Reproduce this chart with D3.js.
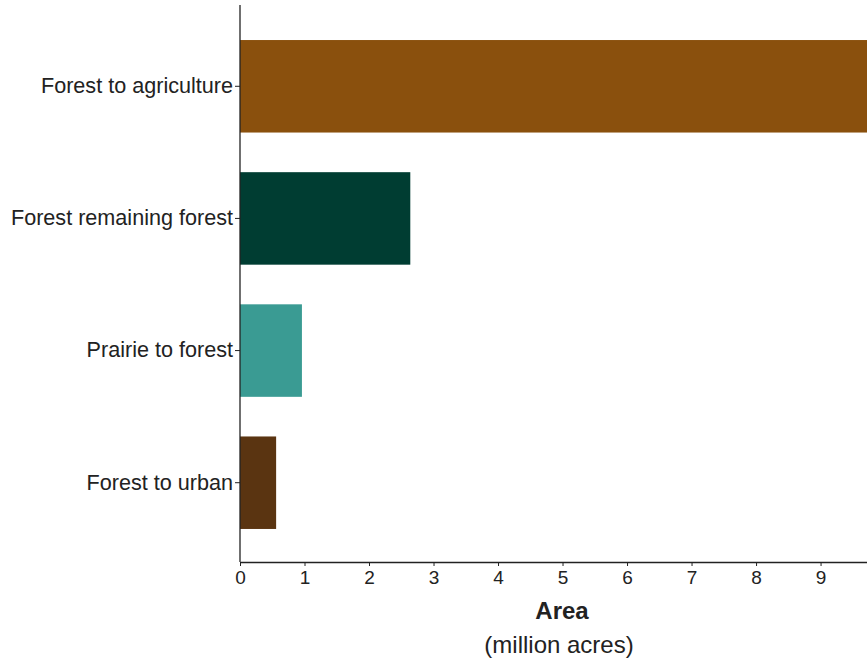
<!DOCTYPE html>
<html>
<head>
<meta charset="utf-8">
<script src="https://cdn.jsdelivr.net/npm/d3@7"></script>
<style>
  body { margin: 0; background: #fff; }
  text { font-family: "Liberation Sans", Arial, sans-serif; }
</style>
</head>
<body>
<svg></svg>
<script>
// land-use change categories, top to bottom
const categories = ['Forest to agriculture', 'Forest remaining forest', 'Prairie to forest', 'Forest to urban']
// area in million acres (first bar runs off the right edge)
const areas = [9.8, 2.64, 0.96, 0.56]
const barColors = ['#8a500d', '#003d32', '#3a9b93', '#5a3411']
const xTicks = [0, 1, 2, 3, 4, 5, 6, 7, 8, 9]

const width = 867
const height = 663
const margin = {top: 7, right: 0, bottom: 101, left: 240}

const svg = d3.select('svg')
    .attr('width', width)
    .attr('height', height)

const x = d3.scaleLinear()
    .domain([0, 9.72])
    .range([margin.left, width - margin.right])

const y = d3.scaleBand()
    .domain(categories)
    .range([margin.top, height - margin.bottom])
    .paddingInner(0.3)
    .paddingOuter(0.25)

svg.append('clipPath')
    .attr('id', 'plot-clip')
    .append('rect')
        .attr('x', margin.left)
        .attr('y', 0)
        .attr('width', width - margin.left)
        .attr('height', height)

// bars
svg.append('g')
    .attr('clip-path', 'url(#plot-clip)')
    .selectAll('rect')
    .data(categories)
    .join('rect')
        .attr('x', x(0))
        .attr('y', d => y(d))
        .attr('width', (d, i) => x(areas[i]) - x(0))
        .attr('height', y.bandwidth())
        .attr('fill', (d, i) => barColors[i])

// x axis
const xAxis = svg.append('g')
    .attr('transform', `translate(0, ${height - margin.bottom})`)
    .call(d3.axisBottom(x).tickValues(xTicks).tickSize(4).tickSizeOuter(0).tickFormat(d3.format('d')))
xAxis.select('.domain').attr('stroke', '#222').attr('stroke-width', 1.3)
xAxis.selectAll('.tick line').attr('stroke', '#222')
xAxis.selectAll('.tick text')
    .attr('fill', '#222')
    .attr('font-size', '19px')
    .attr('dy', '0.8em')

// y axis
const yAxis = svg.append('g')
    .attr('transform', `translate(${margin.left}, 0)`)
    .call(d3.axisLeft(y).tickSize(5).tickSizeOuter(0))
yAxis.select('.domain')
    .attr('stroke', '#222')
    .attr('stroke-width', 1.3)
    .attr('d', `M0,5V${height - margin.bottom}`)
yAxis.selectAll('.tick line').attr('stroke', '#222')
yAxis.selectAll('.tick text')
    .attr('fill', '#222')
    .attr('font-size', '21.6px')
    .attr('x', -7)

// axis title
svg.append('text')
    .attr('x', 562)
    .attr('y', 619)
    .attr('text-anchor', 'middle')
    .attr('font-size', '24px')
    .attr('font-weight', 700)
    .attr('fill', '#222')
    .text('Area')

svg.append('text')
    .attr('x', 559)
    .attr('y', 653)
    .attr('text-anchor', 'middle')
    .attr('font-size', '24px')
    .attr('fill', '#222')
    .text('(million acres)')
</script>
</body>
</html>
